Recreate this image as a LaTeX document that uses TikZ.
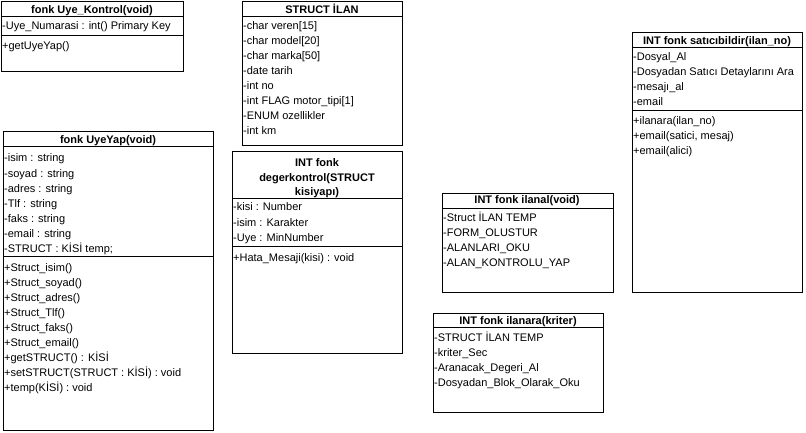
\documentclass[tikz,border=0pt]{standalone}
\usepackage{fontspec}
\setmainfont{Liberation Sans}
\begin{document}
\begin{tikzpicture}[x=1pt,y=-1pt,
  cls/.style={draw=black, line width=1pt},
  sep/.style={draw=black, line width=1pt},
  row/.style={anchor=base west, inner sep=0pt, font=\fontsize{11}{13}\selectfont},
  ttl/.style={anchor=base, inner sep=0pt, font=\fontsize{11}{13}\selectfont\bfseries, align=center}]
\useasboundingbox[fill=white] (0,0) rectangle (806,433);
% Box 1: Uye_Kontrol
\draw[cls] (1,2) rectangle (183,72);
\draw[sep] (1,17) -- (183,17);
\draw[sep] (1,36) -- (183,36);
\node[ttl] (t1) at (92,14) {fonk Uye\_Kontrol(void)};
\node[row] (a1) at (2,30) {-Uye\_Numarasi : int() Primary Key};
\node[row] (m1) at (2,50) {+getUyeYap()};
% Box 2: STRUCT ILAN
\draw[cls] (242,2) rectangle (402,146);
\draw[sep] (242,17) -- (402,17);
\node[ttl] (t2) at (322,14) {STRUCT İLAN};
\foreach \t [count=\i] in {-char veren[15],-char model[20],-char marka[50],-date tarih,-int no,-int FLAG motor\_tipi[1],-ENUM ozellikler,-int km}
  \node[row] at (243,{15*\i+15}) {\t};
% Box 3: UyeYap
\draw[cls] (3,132) rectangle (213,430);
\draw[sep] (3,147) -- (213,147);
\draw[sep] (3,256) -- (213,256);
\node[ttl] (t3) at (108,144) {fonk UyeYap(void)};
\foreach \t [count=\i] in {-isim : string,-soyad : string,-adres : string,-Tlf : string,-faks : string,-email : string,-STRUCT : KİSİ temp;}
  \node[row] at (4,{15*\i+147}) {\t};
\foreach \t [count=\i] in {+Struct\_isim(),+Struct\_soyad(),+Struct\_adres(),+Struct\_Tlf(),+Struct\_faks(),+Struct\_email(),+getSTRUCT() : KİSİ,{+setSTRUCT(STRUCT : KİSİ) : void},+temp(KİSİ) : void}
  \node[row] at (4,{15*\i+256}) {\t};
% Box 4: degerkontrol
\draw[cls] (232,152) rectangle (402,353);
\draw[sep] (232,198) -- (402,198);
\draw[sep] (232,246) -- (402,246);
\node[ttl] (t4a) at (317,167) {INT fonk};
\node[ttl] (t4b) at (317,182) {degerkontrol(STRUCT};
\node[ttl] (t4c) at (317,195) {kisiyapı)};
\foreach \t [count=\i] in {-kisi : Number,-isim : Karakter,-Uye : MinNumber}
  \node[row] at (233,{15*\i+196}) {\t};
\node[row] (m4) at (233,261) {+Hata\_Mesaji(kisi) : void};
% Box 5: saticibildir
\draw[cls] (632,33) rectangle (802,292);
\draw[sep] (632,48) -- (802,48);
\draw[sep] (632,111) -- (802,111);
\node[ttl] (t5) at (717,45) {INT fonk satıcıbildir(ilan\_no)};
\foreach \t [count=\i] in {-Dosyal\_Al,-Dosyadan Satıcı Detaylarını Ara,-mesajı\_al,-email}
  \node[row] at (633,{15*\i+46}) {\t};
\foreach \t [count=\i] in {+ilanara(ilan\_no),{+email(satici, mesaj)},+email(alici)}
  \node[row] at (633,{15*\i+110}) {\t};
% Box 6: ilanal
\draw[cls] (442,193) rectangle (613,292);
\draw[sep] (442,208) -- (613,208);
\node[ttl] (t6) at (527,204) {INT fonk ilanal(void)};
\foreach \t [count=\i] in {-Struct İLAN TEMP,-FORM\_OLUSTUR,-ALANLARI\_OKU,-ALAN\_KONTROLU\_YAP}
  \node[row] at (443,{15*\i+206}) {\t};
% Box 7: ilanara
\draw[cls] (433,313) rectangle (603,412);
\draw[sep] (433,327) -- (603,327);
\node[ttl] (t7) at (518,324) {INT fonk ilanara(kriter)};
\foreach \t [count=\i] in {-STRUCT İLAN TEMP,-kriter\_Sec,-Aranacak\_Degeri\_Al,-Dosyadan\_Blok\_Olarak\_Oku}
  \node[row] at (434,{15*\i+326}) {\t};
\end{tikzpicture}
\end{document}
